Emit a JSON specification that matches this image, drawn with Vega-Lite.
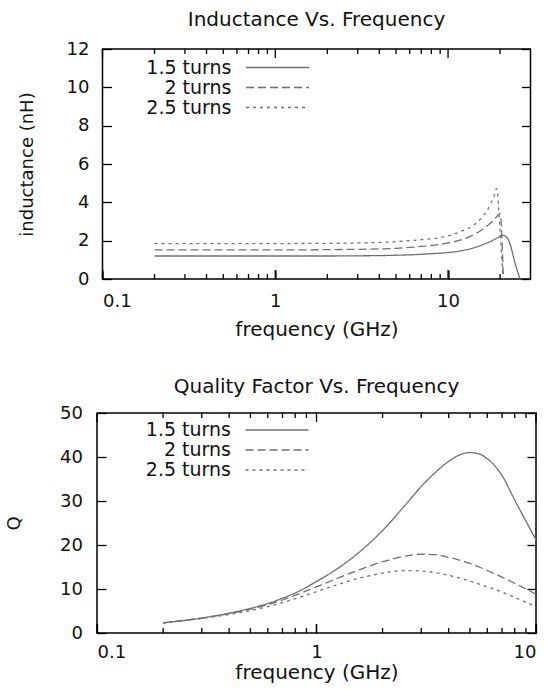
{
  "$schema": "https://vega.github.io/schema/vega-lite/v6.json",
  "padding": {"left": 4, "top": 8, "right": 5, "bottom": 5},
  "datasets": {
    "ind": [
      {"f": 0.2, "series": "1.5 turns", "L": 1.2}, {"f": 0.5, "series": "1.5 turns", "L": 1.2}, {"f": 1, "series": "1.5 turns", "L": 1.2}, {"f": 2, "series": "1.5 turns", "L": 1.2}, {"f": 3, "series": "1.5 turns", "L": 1.21}, {"f": 4, "series": "1.5 turns", "L": 1.22}, {"f": 5, "series": "1.5 turns", "L": 1.24}, {"f": 6, "series": "1.5 turns", "L": 1.26}, {"f": 7, "series": "1.5 turns", "L": 1.29}, {"f": 8, "series": "1.5 turns", "L": 1.32}, {"f": 10, "series": "1.5 turns", "L": 1.38}, {"f": 12, "series": "1.5 turns", "L": 1.48}, {"f": 14, "series": "1.5 turns", "L": 1.62}, {"f": 16, "series": "1.5 turns", "L": 1.8}, {"f": 18, "series": "1.5 turns", "L": 2.0}, {"f": 19.5, "series": "1.5 turns", "L": 2.17}, {"f": 20.8, "series": "1.5 turns", "L": 2.28}, {"f": 22, "series": "1.5 turns", "L": 2.15}, {"f": 22.8, "series": "1.5 turns", "L": 1.85}, {"f": 24.3, "series": "1.5 turns", "L": 0.89}, {"f": 26.1, "series": "1.5 turns", "L": 0},
      {"f": 0.2, "series": "2 turns", "L": 1.52}, {"f": 0.5, "series": "2 turns", "L": 1.52}, {"f": 1, "series": "2 turns", "L": 1.52}, {"f": 2, "series": "2 turns", "L": 1.53}, {"f": 3, "series": "2 turns", "L": 1.55}, {"f": 5, "series": "2 turns", "L": 1.6}, {"f": 7, "series": "2 turns", "L": 1.7}, {"f": 10, "series": "2 turns", "L": 1.88}, {"f": 12, "series": "2 turns", "L": 2.05}, {"f": 14, "series": "2 turns", "L": 2.3}, {"f": 16, "series": "2 turns", "L": 2.62}, {"f": 18, "series": "2 turns", "L": 3.0}, {"f": 19, "series": "2 turns", "L": 3.22}, {"f": 20, "series": "2 turns", "L": 3.42}, {"f": 20.9, "series": "2 turns", "L": 0},
      {"f": 0.2, "series": "2.5 turns", "L": 1.85}, {"f": 0.5, "series": "2.5 turns", "L": 1.85}, {"f": 1, "series": "2.5 turns", "L": 1.85}, {"f": 2, "series": "2.5 turns", "L": 1.86}, {"f": 3, "series": "2.5 turns", "L": 1.88}, {"f": 5, "series": "2.5 turns", "L": 1.95}, {"f": 7, "series": "2.5 turns", "L": 2.05}, {"f": 10, "series": "2.5 turns", "L": 2.25}, {"f": 12, "series": "2.5 turns", "L": 2.5}, {"f": 14, "series": "2.5 turns", "L": 2.8}, {"f": 16, "series": "2.5 turns", "L": 3.3}, {"f": 17.5, "series": "2.5 turns", "L": 3.85}, {"f": 18.5, "series": "2.5 turns", "L": 4.35}, {"f": 19.1, "series": "2.5 turns", "L": 4.72}, {"f": 20, "series": "2.5 turns", "L": 2.5}, {"f": 20.8, "series": "2.5 turns", "L": 0}
    ],
    "q": [
      {"f": 0.2, "series": "1.5 turns", "Q": 2.3}, {"f": 0.3, "series": "1.5 turns", "Q": 3.4}, {"f": 0.4, "series": "1.5 turns", "Q": 4.5}, {"f": 0.5, "series": "1.5 turns", "Q": 5.6}, {"f": 0.6, "series": "1.5 turns", "Q": 6.7}, {"f": 0.7, "series": "1.5 turns", "Q": 7.9}, {"f": 0.8, "series": "1.5 turns", "Q": 9.1}, {"f": 1, "series": "1.5 turns", "Q": 11.7}, {"f": 1.2, "series": "1.5 turns", "Q": 14.1}, {"f": 1.5, "series": "1.5 turns", "Q": 17.6}, {"f": 2, "series": "1.5 turns", "Q": 23.3}, {"f": 2.5, "series": "1.5 turns", "Q": 28.7}, {"f": 3, "series": "1.5 turns", "Q": 33.3}, {"f": 3.5, "series": "1.5 turns", "Q": 36.6}, {"f": 4, "series": "1.5 turns", "Q": 39.0}, {"f": 4.5, "series": "1.5 turns", "Q": 40.5}, {"f": 5, "series": "1.5 turns", "Q": 41.0}, {"f": 5.5, "series": "1.5 turns", "Q": 40.7}, {"f": 6, "series": "1.5 turns", "Q": 39.6}, {"f": 7, "series": "1.5 turns", "Q": 35.8}, {"f": 8, "series": "1.5 turns", "Q": 30.2}, {"f": 9, "series": "1.5 turns", "Q": 25.4}, {"f": 10, "series": "1.5 turns", "Q": 21.2},
      {"f": 0.2, "series": "2 turns", "Q": 2.3}, {"f": 0.3, "series": "2 turns", "Q": 3.4}, {"f": 0.4, "series": "2 turns", "Q": 4.4}, {"f": 0.5, "series": "2 turns", "Q": 5.4}, {"f": 0.7, "series": "2 turns", "Q": 7.5}, {"f": 1, "series": "2 turns", "Q": 10.5}, {"f": 1.5, "series": "2 turns", "Q": 14.0}, {"f": 2, "series": "2 turns", "Q": 16.2}, {"f": 2.5, "series": "2 turns", "Q": 17.4}, {"f": 3, "series": "2 turns", "Q": 17.9}, {"f": 3.5, "series": "2 turns", "Q": 17.8}, {"f": 4, "series": "2 turns", "Q": 17.2}, {"f": 5, "series": "2 turns", "Q": 15.8}, {"f": 6, "series": "2 turns", "Q": 14.2}, {"f": 7, "series": "2 turns", "Q": 12.7}, {"f": 8, "series": "2 turns", "Q": 11.3}, {"f": 10, "series": "2 turns", "Q": 8.8},
      {"f": 0.2, "series": "2.5 turns", "Q": 2.3}, {"f": 0.3, "series": "2.5 turns", "Q": 3.3}, {"f": 0.4, "series": "2.5 turns", "Q": 4.2}, {"f": 0.5, "series": "2.5 turns", "Q": 5.1}, {"f": 0.7, "series": "2.5 turns", "Q": 6.9}, {"f": 1, "series": "2.5 turns", "Q": 9.4}, {"f": 1.5, "series": "2.5 turns", "Q": 12.2}, {"f": 2, "series": "2.5 turns", "Q": 13.6}, {"f": 2.5, "series": "2.5 turns", "Q": 14.2}, {"f": 3, "series": "2.5 turns", "Q": 14.1}, {"f": 3.5, "series": "2.5 turns", "Q": 13.7}, {"f": 4, "series": "2.5 turns", "Q": 13.1}, {"f": 5, "series": "2.5 turns", "Q": 11.8}, {"f": 6, "series": "2.5 turns", "Q": 10.5}, {"f": 7, "series": "2.5 turns", "Q": 9.3}, {"f": 8, "series": "2.5 turns", "Q": 8.1}, {"f": 10, "series": "2.5 turns", "Q": 6.0}
    ],
    "majorTop": [{"t": 0.1}, {"t": 1}, {"t": 10}],
    "minorTop": [{"t": 0.2}, {"t": 0.3}, {"t": 0.4}, {"t": 0.5}, {"t": 0.6}, {"t": 0.7}, {"t": 0.8}, {"t": 0.9}, {"t": 2}, {"t": 3}, {"t": 4}, {"t": 5}, {"t": 6}, {"t": 7}, {"t": 8}, {"t": 9}, {"t": 20}],
    "majorBot": [{"t": 0.1}, {"t": 1}, {"t": 10}],
    "minorBot": [{"t": 0.2}, {"t": 0.3}, {"t": 0.4}, {"t": 0.5}, {"t": 0.6}, {"t": 0.7}, {"t": 0.8}, {"t": 0.9}, {"t": 2}, {"t": 3}, {"t": 4}, {"t": 5}, {"t": 6}, {"t": 7}, {"t": 8}, {"t": 9}]
  },
  "vconcat": [
    {
      "width": 428,
      "height": 230,
      "data": {"name": "ind"},
      "title": {"text": "Inductance Vs. Frequency", "offset": 10.5},
      "layer": [
        {
          "mark": {"type": "line", "color": "#707070", "strokeWidth": 1.3, "interpolate": "monotone"},
          "encoding": {
            "x": {"field": "f", "type": "quantitative", "scale": {"type": "log", "domain": [0.1, 30], "nice": false},
              "axis": {"orient": "bottom", "title": "frequency (GHz)", "values": [0.1, 1, 10], "format": "~g", "tickSize": 9, "offset": -9, "labelPadding": 13, "titlePadding": 9}},
            "y": {"field": "L", "type": "quantitative", "scale": {"domain": [0, 12], "nice": false},
              "axis": {"orient": "left", "title": "inductance (nH)", "values": [0, 2, 4, 6, 8, 10, 12], "tickSize": 9, "offset": -9, "labelPadding": 13.5, "titlePadding": 30}},
            "strokeDash": {"field": "series", "type": "nominal",
              "scale": {"domain": ["1.5 turns", "2 turns", "2.5 turns"], "range": [[1, 0], [8, 4], [3, 4]]},
              "legend": {"orient": "none", "legendX": 165.5, "legendY": 9, "title": null, "symbolType": "M-4,0L4,0", "symbolSize": 248, "symbolStrokeWidth": 1.3, "symbolStrokeColor": "#707070", "labelAlign": "right", "labelOffset": -55.5, "labelFontSize": 19, "labelFont": "DejaVu Sans", "labelColor": "#111", "rowPadding": -4}}
          }
        },
        {
          "mark": {"type": "line", "opacity": 0},
          "encoding": {
            "x": {"field": "f", "type": "quantitative", "scale": {"type": "log", "domain": [0.1, 30], "nice": false}, "axis": null},
            "y": {"field": "L", "type": "quantitative", "scale": {"domain": [0, 12], "nice": false},
              "axis": {"orient": "right", "title": null, "labels": false, "values": [0, 2, 4, 6, 8, 10, 12], "tickSize": 9, "offset": -9}},
            "detail": {"field": "series"}
          }
        },
        {
          "data": {"name": "majorBot"},
          "mark": {"type": "rule", "color": "#000", "strokeWidth": 1.3},
          "encoding": {
            "x": {"field": "t", "type": "quantitative", "scale": {"type": "log", "domain": [0.1, 30], "nice": false}, "axis": null},
            "y": {"datum": 0, "type": "quantitative", "axis": null},
            "y2": {"datum": 0.47}
          }
        },
        {
          "data": {"name": "minorTop"},
          "mark": {"type": "rule", "color": "#000", "strokeWidth": 1.3},
          "encoding": {
            "x": {"field": "t", "type": "quantitative", "scale": {"type": "log", "domain": [0.1, 30], "nice": false}, "axis": null},
            "y": {"datum": 0, "type": "quantitative", "axis": null},
            "y2": {"datum": 0.26}
          }
        },
        {
          "data": {"name": "majorTop"},
          "mark": {"type": "rule", "color": "#000", "strokeWidth": 1.3},
          "encoding": {
            "x": {"field": "t", "type": "quantitative", "scale": {"type": "log", "domain": [0.1, 30], "nice": false}, "axis": null},
            "y": {"datum": 12, "type": "quantitative", "axis": null},
            "y2": {"datum": 11.53}
          }
        },
        {
          "data": {"name": "minorTop"},
          "mark": {"type": "rule", "color": "#000", "strokeWidth": 1.3},
          "encoding": {
            "x": {"field": "t", "type": "quantitative", "scale": {"type": "log", "domain": [0.1, 30], "nice": false}, "axis": null},
            "y": {"datum": 12, "type": "quantitative", "axis": null},
            "y2": {"datum": 11.74}
          }
        }
      ],
      "resolve": {"axis": {"x": "independent", "y": "independent"}}
    },
    {
      "width": 439,
      "height": 220,
      "data": {"name": "q"},
      "title": {"text": "Quality Factor Vs. Frequency", "offset": 6.7},
      "layer": [
        {
          "mark": {"type": "line", "color": "#707070", "strokeWidth": 1.3, "interpolate": "monotone"},
          "encoding": {
            "x": {"field": "f", "type": "quantitative", "scale": {"type": "log", "domain": [0.1, 10], "nice": false},
              "axis": {"orient": "bottom", "title": "frequency (GHz)", "values": [0.1, 1, 10], "format": "~g", "tickSize": 9, "offset": -9, "labelPadding": 10.5, "titlePadding": 1}},
            "y": {"field": "Q", "type": "quantitative", "scale": {"domain": [0, 50], "nice": false},
              "axis": {"orient": "left", "title": "Q", "values": [0, 10, 20, 30, 40, 50], "tickSize": 9, "offset": -9, "labelPadding": 14.5, "titlePadding": 36}},
            "strokeDash": {"field": "series", "type": "nominal",
              "scale": {"domain": ["1.5 turns", "2 turns", "2.5 turns"], "range": [[1, 0], [8, 4], [3, 4]]},
              "legend": {"orient": "none", "legendX": 170.5, "legendY": 7.5, "title": null, "symbolType": "M-4,0L4,0", "symbolSize": 248, "symbolStrokeWidth": 1.3, "symbolStrokeColor": "#707070", "labelAlign": "right", "labelOffset": -55.5, "labelFontSize": 19, "labelFont": "DejaVu Sans", "labelColor": "#111", "rowPadding": -5}}
          }
        },
        {
          "mark": {"type": "line", "opacity": 0},
          "encoding": {
            "x": {"field": "f", "type": "quantitative", "scale": {"type": "log", "domain": [0.1, 10], "nice": false}, "axis": null},
            "y": {"field": "Q", "type": "quantitative", "scale": {"domain": [0, 50], "nice": false},
              "axis": {"orient": "right", "title": null, "labels": false, "values": [0, 10, 20, 30, 40, 50], "tickSize": 9, "offset": -9}},
            "detail": {"field": "series"}
          }
        },
        {
          "data": {"name": "majorBot"},
          "mark": {"type": "rule", "color": "#000", "strokeWidth": 1.3},
          "encoding": {
            "x": {"field": "t", "type": "quantitative", "scale": {"type": "log", "domain": [0.1, 10], "nice": false}, "axis": null},
            "y": {"datum": 0, "type": "quantitative", "axis": null},
            "y2": {"datum": 2.05}
          }
        },
        {
          "data": {"name": "minorBot"},
          "mark": {"type": "rule", "color": "#000", "strokeWidth": 1.3},
          "encoding": {
            "x": {"field": "t", "type": "quantitative", "scale": {"type": "log", "domain": [0.1, 10], "nice": false}, "axis": null},
            "y": {"datum": 0, "type": "quantitative", "axis": null},
            "y2": {"datum": 1.14}
          }
        },
        {
          "data": {"name": "majorBot"},
          "mark": {"type": "rule", "color": "#000", "strokeWidth": 1.3},
          "encoding": {
            "x": {"field": "t", "type": "quantitative", "scale": {"type": "log", "domain": [0.1, 10], "nice": false}, "axis": null},
            "y": {"datum": 50, "type": "quantitative", "axis": null},
            "y2": {"datum": 47.95}
          }
        },
        {
          "data": {"name": "minorBot"},
          "mark": {"type": "rule", "color": "#000", "strokeWidth": 1.3},
          "encoding": {
            "x": {"field": "t", "type": "quantitative", "scale": {"type": "log", "domain": [0.1, 10], "nice": false}, "axis": null},
            "y": {"datum": 50, "type": "quantitative", "axis": null},
            "y2": {"datum": 48.86}
          }
        }
      ],
      "resolve": {"axis": {"x": "independent", "y": "independent"}}
    }
  ],
  "spacing": 134,
  "center": true,
  "bounds": "flush",
  "resolve": {"legend": {"strokeDash": "independent"}},
  "config": {
    "font": "DejaVu Sans",
    "view": {"stroke": "#000", "strokeWidth": 1.5},
    "axis": {"domain": false, "grid": false, "ticks": true, "tickColor": "#000", "tickWidth": 1.3, "labelFont": "DejaVu Sans", "labelFontSize": 18, "labelColor": "#111", "titleFont": "DejaVu Sans", "titleFontSize": 18, "titleFontWeight": "normal", "titleColor": "#111"},
    "axisX": {"titleFontSize": 20},
    "title": {"font": "DejaVu Sans", "fontSize": 20, "fontWeight": "normal", "color": "#111"}
  }
}
